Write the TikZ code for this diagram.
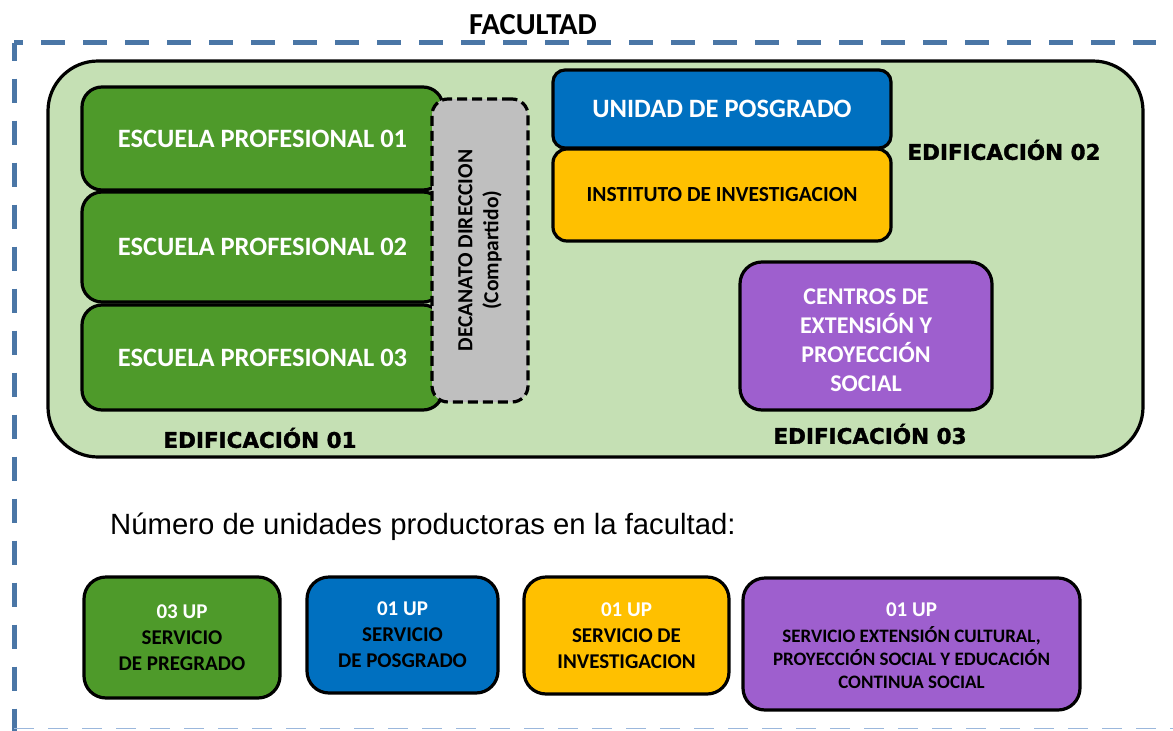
\documentclass[tikz,border=0pt]{standalone}
\usepackage{fontspec}
\setmainfont{Carlito}
\newfontfamily\arialf{Liberation Sans}
\newfontfamily\blackf[BoldFeatures={FakeBold=1.5}]{DejaVu Sans}
\definecolor{bgreen}{HTML}{C5E0B4}
\definecolor{epgreen}{HTML}{4E9A2A}
\definecolor{upblue}{HTML}{0070C0}
\definecolor{upyellow}{HTML}{FFC000}
\definecolor{uppurple}{HTML}{9E5FCE}
\definecolor{decgray}{HTML}{BFBFBF}
\definecolor{dashblue}{HTML}{4A76A6}
\definecolor{lightdash}{HTML}{9BB7DC}
\tikzset{
  box/.style={draw=black, line width=3.2pt, inner sep=0pt, align=center, font=\bfseries},
  edif/.style={font=\blackf\bfseries\fontsize{21.5}{26}\selectfont, inner sep=0pt},
  frame/.style={dashblue, line width=5pt, dash pattern=on 24pt off 18pt},
  upbox/.style={box, rounded corners=22pt, font=\bfseries\fontsize{21}{26}\selectfont},
}
\begin{document}
\begin{tikzpicture}[x=1pt,y=-1pt]
\useasboundingbox (0,0) rectangle (1173,731);
% outer dashed frame
\coordinate (corner) at (14,42.5);
\coordinate (topend) at (1156,42.5);
\coordinate (leftend) at (14,731);
\draw[frame, dash phase=15pt] (corner) -- (topend);
\draw[frame, dash phase=6pt] (corner) -- (leftend);
\coordinate (botstart) at (14,728.5);
\coordinate (botend) at (1173,728.5);
\draw[lightdash, line width=1.5pt, dash pattern=on 20pt off 14pt] (botstart) -- (botend);
\node[font=\bfseries\fontsize{30.5}{34}\selectfont, inner sep=0pt] (fac) at (533,25) {FACULTAD};

% building
\node[box, fill=bgreen, rounded corners=50pt, minimum width=1095pt, minimum height=396pt] (bld) at (595.5,259) {};

% escuelas
\tikzset{epbox/.style={box, fill=epgreen, rounded corners=20pt, text=white, minimum width=361pt, font=\bfseries\fontsize{26.5}{30}\selectfont}}
\node[epbox, minimum height=103pt] (ep1) at (262.5,138.5) {ESCUELA PROFESIONAL 01};
\node[epbox, minimum height=110pt] (ep2) at (262.5,247) {ESCUELA PROFESIONAL 02};
\node[epbox, minimum height=105pt] (ep3) at (262.5,357.5) {ESCUELA PROFESIONAL 03};
% decanato
\node[box, fill=decgray, dash pattern=on 10pt off 5pt, rounded corners=16pt, minimum width=96pt, minimum height=303pt] (dec) at (480,250.5) {};
\node[rotate=90, align=center, font=\bfseries\fontsize{21.5}{26}\selectfont, inner sep=0pt] (dect) at (dec.center) {DECANATO DIRECCION\\(Compartido)};

% edificacion 02
\node[box, fill=upblue, rounded corners=12pt, text=white, minimum width=338pt, minimum height=78pt, font=\bfseries\fontsize{26.5}{30}\selectfont] (pos) at (722,109) {UNIDAD DE POSGRADO};
\node[box, fill=upyellow, rounded corners=14pt, minimum width=338pt, minimum height=92pt, font=\bfseries\fontsize{21.5}{26}\selectfont] (inv) at (722,195) {INSTITUTO DE INVESTIGACION};
\node[edif] (e2) at (1004,150) {EDIFICACIÓN 02};

% edificacion 03
\node[box, fill=uppurple, rounded corners=22pt, minimum width=252pt, minimum height=148pt] (cen) at (866,336) {};
\node[align=center, text=white, inner sep=0pt, font=\bfseries\fontsize{24}{29}\selectfont] (cent) at (866,340.5) {CENTROS DE\\EXTENSIÓN Y\\PROYECCIÓN\\SOCIAL};
\node[edif] (e3) at (870,434) {EDIFICACIÓN 03};
\node[edif] (e1) at (260,438) {EDIFICACIÓN 01};

% count
\node[anchor=west, font=\arialf\fontsize{29.3}{34}\selectfont, inner sep=0pt] (num) at (110,527) {Número de unidades productoras en la facultad:};

% bottom boxes
\node[upbox, fill=epgreen, minimum width=196pt, minimum height=121pt] (b1) at (182,637.5) {\textcolor{white}{03 UP}\\SERVICIO\\DE PREGRADO};
\node[upbox, fill=upblue, minimum width=191pt, minimum height=116pt] (b2) at (402.5,635) {\textcolor{white}{01 UP}\\SERVICIO\\DE POSGRADO};
\node[upbox, fill=upyellow, minimum width=205pt, minimum height=117pt] (b3) at (626.5,635.5) {\textcolor{white}{01 UP}\\SERVICIO DE\\INVESTIGACION};
\node[upbox, fill=uppurple, minimum width=337pt, minimum height=132pt, font=\bfseries\fontsize{19}{23}\selectfont] (b4) at (911.5,644) {};
\node[align=center, inner sep=0pt, font=\bfseries\fontsize{19}{23}\selectfont] (b4t) at (911.5,646) {{\fontsize{21}{26}\selectfont\textcolor{white}{01 UP}}\\[3pt]SERVICIO EXTENSIÓN CULTURAL,\\PROYECCIÓN SOCIAL Y EDUCACIÓN\\CONTINUA SOCIAL};
\end{tikzpicture}
\end{document}
